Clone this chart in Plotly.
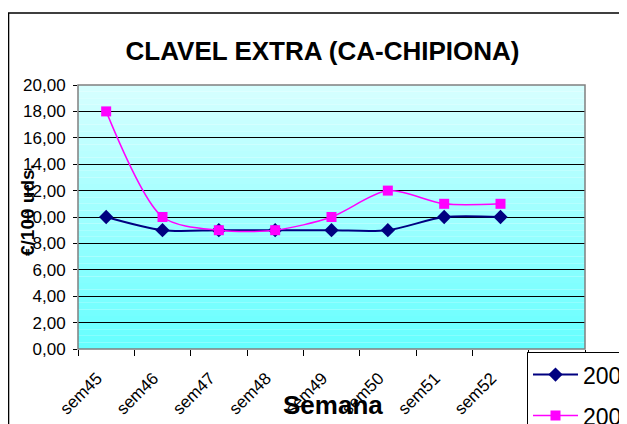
import plotly.graph_objects as go

categories = ["sem45", "sem46", "sem47", "sem48", "sem49", "sem50", "sem51", "sem52", " "]
values_2007 = [10, 9, 9, 9, 9, 9, 10, 10, None]
values_2008 = [18, 10, 9, 9, 10, 12, 11, 11, None]
y_ticks = [0, 2, 4, 6, 8, 10, 12, 14, 16, 18, 20]

fig = go.Figure()
fig.add_trace(go.Scatter(
    x=categories, y=values_2007, name="2007", mode="lines+markers", legendgroup="a",
    line=dict(color="#000080", width=2, shape="spline", smoothing=0.8),
    marker=dict(symbol="diamond", size=11, color="#000080"),
))
fig.add_trace(go.Scatter(
    x=categories, y=values_2008, name="2008", mode="lines+markers", legendgroup="b",
    line=dict(color="#FF00FF", width=1.5, shape="spline", smoothing=0.8),
    marker=dict(symbol="square", size=10, color="#FF00FF"),
))

# gradient background
shapes = []
n = 40
top = (214, 255, 255)
bot = (102, 255, 255)
for i in range(n):
    t = i / (n - 1)
    c = tuple(round(top[k] + (bot[k] - top[k]) * t) for k in range(3))
    shapes.append(dict(type="rect", xref="x domain", yref="y domain",
                       x0=0, x1=1, y0=1 - (i + 1) / n, y1=1 - i / n,
                       fillcolor="rgb(%d,%d,%d)" % c, line=dict(width=0), layer="below"))
# plot border
shapes.append(dict(type="rect", xref="x domain", yref="y domain", x0=0, x1=1, y0=0, y1=1,
                   line=dict(color="#808080", width=1.5), layer="above"))
# outer chart border
shapes.append(dict(type="rect", xref="paper", yref="paper", x0=-0.137, x1=1.3, y0=-0.5, y1=1.2727,
                   line=dict(color="black", width=1.5), layer="below"))

fig.update_layout(
    width=627, height=424,
    margin=dict(l=70, r=50, t=77, b=83, autoexpand=False),
    paper_bgcolor="white",
    plot_bgcolor="rgba(0,0,0,0)",
    separators=",.",
    font=dict(family="Liberation Sans, Arial", size=17, color="black"),
    title=dict(text="<b>CLAVEL EXTRA (CA-CHIPIONA)</b>", x=0.5016, xanchor="center",
               y=0.9, yanchor="middle",
               font=dict(size=26, color="black")),
    shapes=shapes,
    showlegend=True,
    legend=dict(x=0.8856, y=-0.012, xanchor="left", yanchor="top",
                bordercolor="black", borderwidth=1, bgcolor="white",
                font=dict(size=23), tracegroupgap=8, traceorder="grouped",
                itemwidth=45),
    annotations=[
        dict(text="<b>Semana</b>", xref="paper", yref="paper", x=0.502, y=-0.212,
             xanchor="center", yanchor="middle", showarrow=False, font=dict(size=26)),
        dict(text="<b>€/100 uds.</b>", xref="paper", yref="paper", x=-0.1006, y=0.5265,
             xanchor="center", yanchor="middle", showarrow=False, textangle=-90,
             font=dict(size=19)),
    ],
    xaxis=dict(
        type="category", categoryorder="array", categoryarray=categories,
        tickangle=-45, tickson="boundaries", ticks="outside", ticklen=6,
        tickcolor="black", showgrid=False, showline=False,
        tickfont=dict(size=17), range=[-0.5, 8.5],
        ticklabelstandoff=15, ticklabelshift=-9,
    ),
    yaxis=dict(
        range=[0, 20], tickvals=y_ticks, tickformat=".2f",
        ticks="outside", ticklen=4, tickcolor="black",
        showgrid=True, gridcolor="black", gridwidth=1,
        zeroline=False, showline=False, tickfont=dict(size=17),
        ticklabelstandoff=4,
    ),
)

fig.write_html("out.html")
